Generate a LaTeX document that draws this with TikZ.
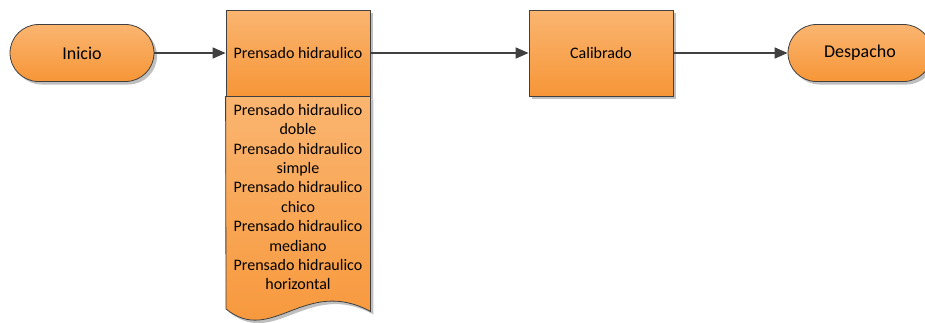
\documentclass[tikz,border=0pt]{standalone}
\usepackage{fontspec}
\setmainfont{Carlito}
\usetikzlibrary{shapes.misc,arrows.meta,shadows}
\definecolor{ortop}{RGB}{250,181,112}
\definecolor{orbot}{RGB}{247,150,56}
\definecolor{edge}{RGB}{64,64,64}
\begin{document}
\begin{tikzpicture}[x=1pt,y=-1pt,
  orfill/.style={top color=ortop,bottom color=orbot,draw=edge,line width=0.8pt},
  shad/.style={drop shadow={shadow xshift=3pt,shadow yshift=-3pt,fill=black,opacity=.25}},
  term/.style={orfill,shad,rounded rectangle,minimum width=144pt,minimum height=57pt,
    inner sep=0pt,font=\fontsize{18}{20}\selectfont},
  proc/.style={orfill,shad,rectangle,minimum width=144pt,minimum height=86pt,
    inner sep=0pt,font=\fontsize{16}{19}\selectfont},
  flow/.style={draw=edge,line width=1.5pt,-{Triangle[length=13pt,width=11pt]}}]
\useasboundingbox (0,0) rectangle (925,322);
\clip (0,0) rectangle (925,322);

% flow steps
\node[term] (inicio) at (82,53) {Inicio};
\node[proc] (prensado) at (298,53) {Prensado hidraulico};
\node[proc] (calibrado) at (601,53) {Calibrado};
\node[term] (despacho) at (860,53) {Despacho};

% document part listing the press types
\path[orfill,shad] (prensado.south west) -- (prensado.south east) -- ++(0,215)
  .. controls (305,276) and (272,346) .. (226,309) -- cycle;
\node[font=\fontsize{16}{19.4}\selectfont,align=center,anchor=north,inner sep=0pt]
  (lista) at (298,104)
  {Prensado hidraulico\\doble\\Prensado hidraulico\\simple\\Prensado hidraulico\\chico\\
   Prensado hidraulico\\mediano\\Prensado hidraulico\\horizontal};

% connectors
\draw[flow] (inicio.east) -- (prensado.west);
\draw[flow] (prensado.east) -- (calibrado.west);
\draw[flow] (calibrado.east) -- (despacho.west);
\end{tikzpicture}
\end{document}
